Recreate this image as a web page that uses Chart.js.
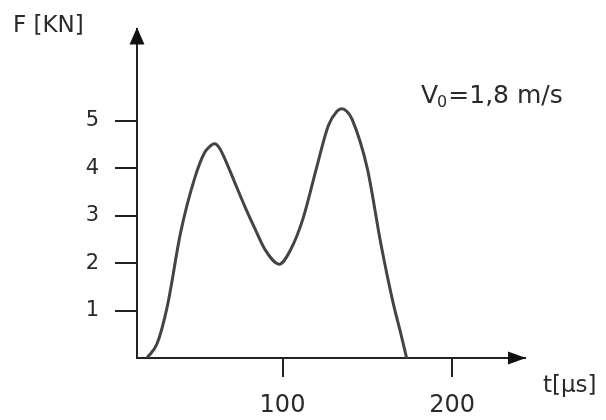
<!DOCTYPE html>
<html>
<head>
<meta charset="utf-8">
<script src="https://cdn.jsdelivr.net/npm/chart.js@4.4.1/dist/chart.umd.min.js"></script>
<style>
  html, body { margin: 0; padding: 0; background: #fff; }
  #wrap { width: 606px; height: 420px; }
</style>
</head>
<body>
<div id="wrap"><canvas id="forceChart"></canvas></div>
<script>
// impact force curve
const timeUs = [20, 26, 32, 40, 48, 54, 57, 60, 63, 66, 72, 78, 84, 90, 98,
                105, 112, 120, 127, 132, 135, 138, 141, 150, 158, 165, 170, 173.2];
const forceKN = [0, 0.3, 1.08, 2.66, 3.77, 4.33, 4.46, 4.52, 4.42, 4.2, 3.69, 3.18, 2.71, 2.27, 1.98,
                 2.3, 2.93, 4.0, 4.9, 5.2, 5.26, 5.2, 5.04, 4.0, 2.41, 1.2, 0.48, 0];
const xTicks = [100, 200];
const yTicks = [1, 2, 3, 4, 5];

const yTitle = "F [KN]";
const xTitle = "t[μs]";
const noteMain = "V", noteSub = "0", noteRest = "=1,8 m/s";

const FONT = "'DejaVu Sans', Verdana, sans-serif";
const INK = "#222";

// arrows at the ends of the axes + free text
const axisDecor = {
  id: "axisDecor",
  afterDraw(chart) {
    const { ctx, chartArea: { left, right, top, bottom } } = chart;
    ctx.save();
    ctx.fillStyle = "#111";
    ctx.beginPath();
    ctx.moveTo(left, top - 1);
    ctx.lineTo(left - 7.5, top + 16);
    ctx.lineTo(left + 7.5, top + 16);
    ctx.closePath();
    ctx.fill();
    ctx.beginPath();
    ctx.moveTo(right + 1, bottom);
    ctx.lineTo(right - 17, bottom - 6.5);
    ctx.lineTo(right - 17, bottom + 6.5);
    ctx.closePath();
    ctx.fill();

    ctx.fillStyle = "#2a2a2a";
    ctx.textBaseline = "alphabetic";
    ctx.textAlign = "left";
    ctx.font = "23px " + FONT;
    ctx.fillText(yTitle, 13, 32);
    ctx.fillText(xTitle, 543, 392);

    let x = 421;
    ctx.font = "25px " + FONT;
    ctx.fillText(noteMain, x, 103);
    x += ctx.measureText(noteMain).width - 1;
    ctx.font = "16px " + FONT;
    ctx.fillText(noteSub, x, 107);
    x += ctx.measureText(noteSub).width + 1;
    ctx.font = "25px " + FONT;
    ctx.fillText(noteRest, x, 103);
    ctx.restore();
  }
};

new Chart(document.getElementById("forceChart"), {
  type: "line",
  data: {
    datasets: [{
      data: timeUs.map((t, i) => ({ x: t, y: forceKN[i] })),
      borderColor: "#444",
      borderWidth: 3,
      pointRadius: 0,
      cubicInterpolationMode: "monotone",
      fill: false
    }]
  },
  options: {
    responsive: true,
    maintainAspectRatio: false,
    animation: false,
    layout: { padding: { left: 0, right: 81, top: 23, bottom: 0 } },
    plugins: { legend: { display: false }, tooltip: { enabled: false } },
    scales: {
      x: {
        type: "linear",
        min: 14.2,
        max: 243,
        afterFit(s) { s.height = 62; },
        afterBuildTicks(s) { s.ticks = xTicks.map(v => ({ value: v })); },
        grid: { drawOnChartArea: false, drawTicks: true, tickLength: 19, color: INK, lineWidth: 2 },
        border: { display: true, color: INK, width: 2 },
        ticks: { font: { family: FONT, size: 24 }, color: "#2a2a2a", padding: 14, maxRotation: 0, autoSkip: false }
      },
      y: {
        min: 0,
        max: 6.95,
        afterFit(s) { s.width = 137; },
        afterBuildTicks(s) { s.ticks = yTicks.map(v => ({ value: v })); },
        grid: { drawOnChartArea: false, drawTicks: true, tickLength: 22, color: INK, lineWidth: 2 },
        border: { display: true, color: INK, width: 2 },
        ticks: { font: { family: FONT, size: 21 }, color: "#2a2a2a", padding: 16, autoSkip: false }
      }
    }
  },
  plugins: [axisDecor]
});
</script>
</body>
</html>
